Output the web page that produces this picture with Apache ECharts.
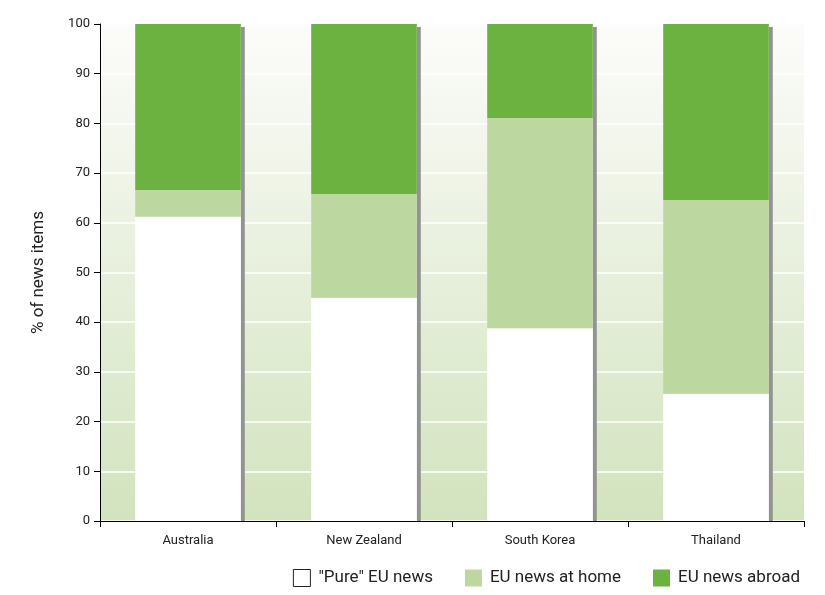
<!DOCTYPE html>
<html><head><meta charset="utf-8">
<script src="https://cdn.jsdelivr.net/npm/echarts@6/dist/echarts.min.js"></script>
<style>html,body{margin:0;padding:0;background:#fff}#c{width:825px;height:595px}</style>
</head><body><div id="c"></div>
<script>
var categories = ['Australia', 'New Zealand', 'South Korea', 'Thailand'];
var pureValues = [61.2, 44.9, 38.8, 25.6];
var homeValues = [5.4, 20.9, 42.3, 39.0];
var abroadValues = [33.4, 34.2, 18.9, 35.4];
var yTicks = [0, 10, 20, 30, 40, 50, 60, 70, 80, 90, 100];
var FONT = '"Roboto", "Liberation Sans", sans-serif';

var chart = echarts.init(document.getElementById('c'), null, {renderer: 'canvas'});
var totals = categories.map(function (c, i) { return pureValues[i] + homeValues[i] + abroadValues[i]; });
chart.setOption({
  animation: false,
  textStyle: {fontFamily: FONT},
  grid: {
    left: 100, right: 21, top: 24, bottom: 74, show: true, borderWidth: 0,
    backgroundColor: new echarts.graphic.LinearGradient(0, 0, 0, 1, [
      {offset: 0, color: '#fcfcfa'}, {offset: 1, color: '#d2e3be'}])
  },
  legend: {
    right: 20, bottom: 3, itemWidth: 17, itemHeight: 17, itemGap: 32,
    textStyle: {fontSize: 17, color: '#222', fontFamily: FONT, padding: [0, 0, 0, 3]},
    data: [
      {name: '"Pure" EU news', icon: 'rect', itemStyle: {color: '#fff', borderColor: '#222', borderWidth: 1}},
      {name: 'EU news at home', icon: 'rect'},
      {name: 'EU news abroad', icon: 'rect'}
    ]
  },
  xAxis: {
    type: 'category', data: categories,
    axisLine: {lineStyle: {color: '#000', width: 1}},
    axisTick: {show: true, length: 6, lineStyle: {color: '#000'}},
    axisLabel: {fontSize: 13, color: '#222', margin: 13, fontFamily: FONT}
  },
  yAxis: {
    type: 'value', min: 0, max: 100, interval: 10,
    name: '% of news items', nameLocation: 'middle', nameGap: 53,
    nameTextStyle: {fontSize: 17, color: '#222', fontFamily: FONT},
    axisLine: {show: true, lineStyle: {color: '#000', width: 1}},
    axisTick: {show: true, length: 6, lineStyle: {color: '#000'}},
    axisLabel: {fontSize: 13, color: '#222', margin: 10, fontFamily: FONT,
      formatter: function (v) { return yTicks.indexOf(v) >= 0 ? String(v) : ''; }},
    splitLine: {show: true, lineStyle: {color: '#ffffff', width: 1.5}}
  },
  series: [
    {
      type: 'custom', name: 'shadow', silent: true, z: 1,
      data: totals.map(function (t, i) { return [i, t]; }),
      renderItem: function (params, api) {
        var top = api.coord([api.value(0), api.value(1)]);
        var bottom = api.coord([api.value(0), 0]);
        var band = api.size([1, 0])[0];
        var x = top[0] + band * 0.3;
        return {type: 'rect', shape: {x: x, y: top[1] + 3, width: 4, height: bottom[1] - top[1] - 3},
          style: {fill: '#939393'}};
      },
      encode: {x: 0, y: 1}
    },
    {name: '"Pure" EU news', type: 'bar', stack: 'a', barWidth: '60%', z: 2,
      itemStyle: {color: '#ffffff'}, data: pureValues},
    {name: 'EU news at home', type: 'bar', stack: 'a', barWidth: '60%', z: 2,
      itemStyle: {color: '#bdd7a1'}, data: homeValues},
    {name: 'EU news abroad', type: 'bar', stack: 'a', barWidth: '60%', z: 2,
      itemStyle: {color: '#6bb240'}, data: abroadValues}
  ]
});
</script></body></html>
